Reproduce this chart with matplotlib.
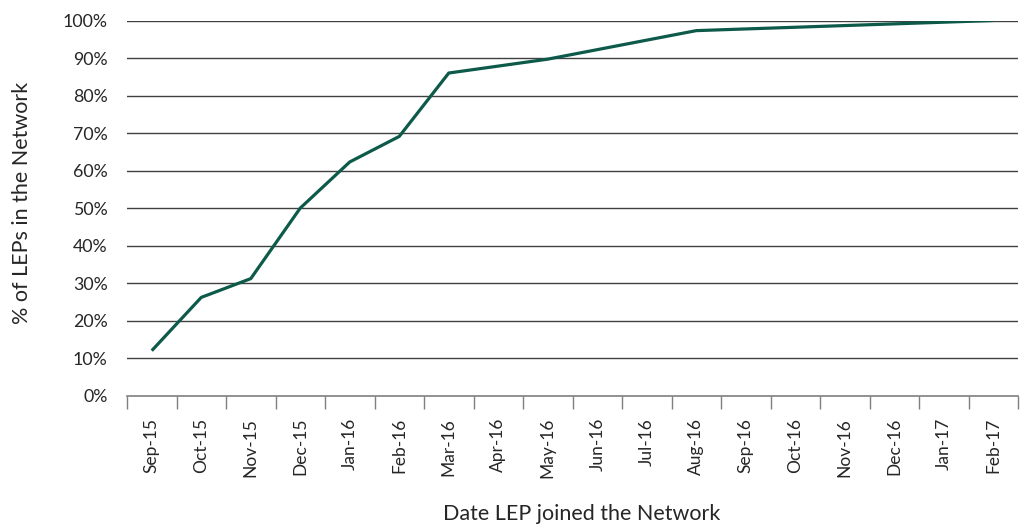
import numpy as np
import matplotlib
matplotlib.use("Agg")
import matplotlib.pyplot as plt
from matplotlib.ticker import FuncFormatter, FixedLocator

plt.rcParams['font.family'] = ['Lato', 'DejaVu Sans']

months = ['Sep-15', 'Oct-15', 'Nov-15', 'Dec-15', 'Jan-16', 'Feb-16', 'Mar-16',
          'Apr-16', 'May-16', 'Jun-16', 'Jul-16', 'Aug-16', 'Sep-16', 'Oct-16',
          'Nov-16', 'Dec-16', 'Jan-17', 'Feb-17']
point_months = ['Sep-15', 'Oct-15', 'Nov-15', 'Dec-15', 'Jan-16', 'Feb-16',
                'Mar-16', 'May-16', 'Aug-16', 'Feb-17']
pct_leps = [12.0, 26.2, 31.2, 50.0, 62.3, 69.1, 86.0, 89.7, 97.3, 100.0]
y_ticks = [0, 10, 20, 30, 40, 50, 60, 70, 80, 90, 100]

fig = plt.figure(figsize=(10.22, 5.28), dpi=100)
ax = fig.add_axes([127/1022, 1-395.7/528, 891/1022, 375.2/528])

x = [months.index(m) for m in point_months]
ax.plot(x, pct_leps, color='#0D5A4A', lw=2.3, solid_capstyle='butt', zorder=3)

ax.set_xlim(-0.5, len(months) - 0.5)
ax.set_ylim(0, 100)
ax.set_yticks(y_ticks)
ax.yaxis.set_major_formatter(FuncFormatter(lambda v, p: f'{v:.0f}%'))
ax.set_xticks(np.arange(len(months)))
ax.set_xticklabels(months, rotation=90, fontsize=12.5)
ax.xaxis.set_minor_locator(FixedLocator(np.arange(len(months) + 1) - 0.5))

ax.tick_params(axis='x', which='major', length=0, pad=16)
ax.tick_params(axis='x', which='minor', length=9, width=1, color='#7f7f7f')
ax.tick_params(axis='y', length=0, pad=14, labelsize=12.8)
for lab in ax.get_yticklabels() + ax.get_xticklabels():
    lab.set_color('#262626')

for s in ['top', 'right', 'left']:
    ax.spines[s].set_visible(False)
ax.spines['bottom'].set_color('#7f7f7f')
ax.spines['bottom'].set_linewidth(1.2)

for yv in y_ticks[1:]:
    ax.axhline(yv, color='#404040', lw=1.0, zorder=1)

fig.text(22/1022, 1-203/528, '% of LEPs in the Network', rotation=90,
         ha='center', va='center', fontsize=15.5, color='#262626')
fig.text(582/1022, 1-514/528, 'Date LEP joined the Network',
         ha='center', va='center', fontsize=15.5, color='#262626')

fig.savefig('out.png', dpi=100)
